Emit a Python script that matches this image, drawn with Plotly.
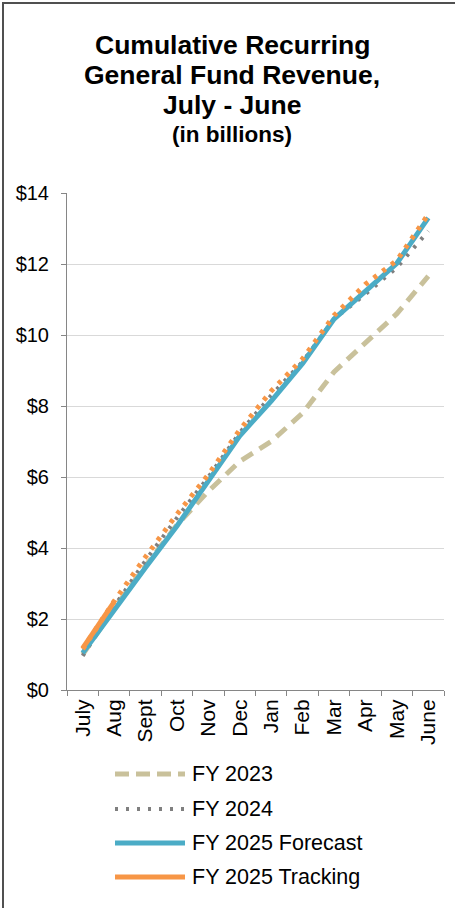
import plotly.graph_objects as go

months = ["July", "Aug", "Sept", "Oct", "Nov", "Dec", "Jan", "Feb", "Mar", "Apr", "May", "June"]
fy2023 = [1.00, 2.30, 3.50, 4.65, 5.60, 6.44, 7.00, 7.80, 8.96, 9.80, 10.60, 11.66]
fy2024 = [0.96, 2.35, 3.65, 4.85, 6.00, 7.25, 8.30, 9.25, 10.45, 11.15, 11.90, 12.93]
fy2025_forecast = [1.04, 2.27, 3.45, 4.62, 5.90, 7.16, 8.14, 9.20, 10.45, 11.25, 12.02, 13.30]
fy2025_tracking_months = ["July", "Aug"]
fy2025_tracking = [1.18, 2.48]
fy2025_tracking_dots = [1.15, 2.50, 3.75, 4.95, 6.07, 7.33, 8.42, 9.33, 10.55, 11.43, 12.10, 13.40]

legend_labels = ["FY 2023", "FY 2024", "FY 2025 Forecast", "FY 2025 Tracking"]

FONT = "Liberation Sans, Arial, sans-serif"
W, H = 455, 908
L, R, T, B = 67, 444, 193, 690

C_TAN = "#C9C19B"
C_GRAY = "#7F7F7F"
C_BLUE = "#4BACC6"
C_ORANGE = "#F79646"


def px(x):
    return (x - L) / (R - L)


def py(y):
    return (B - y) / (B - T)


fig = go.Figure()
fig.add_trace(go.Scatter(x=months, y=fy2023, mode="lines",
                         line=dict(color=C_TAN, width=5, dash="13px,8px"),
                         showlegend=False))
fig.add_trace(go.Scatter(x=months, y=fy2024, mode="lines",
                         line=dict(color=C_GRAY, width=4, dash="3px,8px"),
                         showlegend=False))
fig.add_trace(go.Scatter(x=months, y=fy2025_forecast, mode="lines",
                         line=dict(color=C_BLUE, width=5),
                         showlegend=False))
fig.add_trace(go.Scatter(x=months, y=fy2025_tracking_dots, mode="lines",
                         line=dict(color=C_ORANGE, width=5, dash="4px,7px"),
                         showlegend=False))
fig.add_trace(go.Scatter(x=fy2025_tracking_months, y=fy2025_tracking, mode="lines",
                         line=dict(color=C_ORANGE, width=5),
                         showlegend=False))

shapes = []
annotations = []

# Title
title_lines = [("Cumulative Recurring", 45, 26.5),
               ("General Fund Revenue,", 75, 26.5),
               ("July - June", 105, 26.5),
               ("(in billions)", 134, 22.5)]
for txt, yc, sz in title_lines:
    annotations.append(dict(text="<b>" + txt + "</b>", xref="paper", yref="paper",
                            x=px(232), y=py(yc), xanchor="center", yanchor="middle",
                            showarrow=False, font=dict(family=FONT, size=sz, color="#000000")))

# Manual legend
leg_rows = [774, 809, 843, 877]
leg_styles = [dict(color=C_TAN, width=5, dash="14px,7px"),
              dict(color=C_GRAY, width=4, dash="3px,8px"),
              dict(color=C_BLUE, width=5),
              dict(color=C_ORANGE, width=5)]
for lbl, yr, st in zip(legend_labels, leg_rows, leg_styles):
    shapes.append(dict(type="line", xref="paper", yref="paper",
                       x0=px(115), x1=px(185), y0=py(yr), y1=py(yr), line=st))
    annotations.append(dict(text=lbl, xref="paper", yref="paper",
                            x=px(190), y=py(yr), xanchor="left", yanchor="middle",
                            showarrow=False, font=dict(family=FONT, size=21.5, color="#000000")))

# Outer border (top and left only)
shapes.append(dict(type="line", xref="paper", yref="paper",
                   x0=px(2), x1=px(W + 5), y0=py(3), y1=py(3),
                   line=dict(color="#505050", width=2)))
shapes.append(dict(type="line", xref="paper", yref="paper",
                   x0=px(3), x1=px(3), y0=py(2), y1=py(H + 5),
                   line=dict(color="#505050", width=2)))

fig.update_layout(
    width=W, height=H,
    margin=dict(l=L, r=W - R, t=T, b=H - B, pad=0),
    paper_bgcolor="white", plot_bgcolor="white",
    font=dict(family=FONT, size=20, color="#000000"),
    shapes=shapes, annotations=annotations,
    showlegend=False,
)
fig.update_xaxes(type="category", range=[-0.5, 11.5], tickson="boundaries",
                 ticks="outside", ticklen=5, tickcolor="#868686", tickwidth=1,
                 showline=True, linecolor="#868686", linewidth=1,
                 showgrid=False, tickangle=-90,
                 tickfont=dict(family=FONT, size=21, color="#000000"))
fig.update_yaxes(range=[0, 14], dtick=2, tick0=0, tickprefix="$",
                 ticks="outside", ticklen=5, tickcolor="#868686", tickwidth=1,
                 showline=True, linecolor="#868686", linewidth=1,
                 showgrid=True, gridcolor="#D9D9D9", gridwidth=1, zeroline=False,
                 ticklabelstandoff=8,
                 tickfont=dict(family=FONT, size=20, color="#000000"))

fig.write_html("out.html")
